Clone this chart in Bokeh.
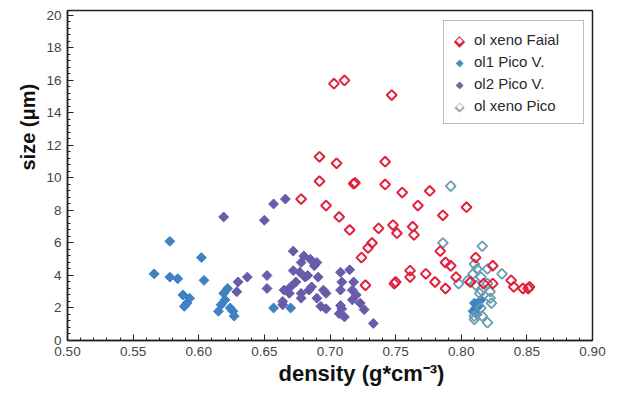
import math
from bokeh.plotting import figure
from bokeh.models import (SingleIntervalTicker, NumeralTickFormatter, Range1d, Legend,
                          LegendItem, Title, Label)
from bokeh.embed import file_html
from bokeh.resources import INLINE

# ol xeno Faial (open red diamonds)
faial_density = [0.703, 0.711, 0.747, 0.692, 0.705, 0.742, 0.692, 0.719, 0.718, 0.742,
                 0.755, 0.776, 0.678, 0.697, 0.767, 0.804, 0.786, 0.707, 0.715, 0.737,
                 0.748, 0.751, 0.763, 0.764, 0.732, 0.729, 0.724, 0.727, 0.750, 0.749,
                 0.761, 0.761, 0.773, 0.780, 0.788, 0.796, 0.784, 0.788, 0.792, 0.811,
                 0.824, 0.807, 0.817, 0.824, 0.838, 0.840, 0.847, 0.852, 0.851]
faial_size = [15.8, 16.0, 15.1, 11.3, 10.9, 11.0, 9.8, 9.7, 9.65, 9.6,
              9.1, 9.2, 8.7, 8.3, 8.3, 8.2, 7.7, 7.6, 6.8, 6.9,
              7.1, 6.6, 7.0, 6.5, 6.0, 5.7, 5.1, 3.4, 3.6, 3.5,
              3.9, 4.3, 4.1, 3.6, 3.2, 3.9, 5.5, 4.8, 4.6, 5.1,
              4.6, 3.6, 3.5, 3.5, 3.7, 3.3, 3.2, 3.3, 3.2]

# ol1 Pico V. (filled blue diamonds)
ol1_density = [0.566, 0.578, 0.602, 0.578, 0.584, 0.604, 0.588, 0.593, 0.591, 0.589,
               0.615, 0.619, 0.620, 0.617, 0.624, 0.626, 0.627, 0.622, 0.657, 0.670,
               0.810, 0.811, 0.809, 0.813, 0.812, 0.815]
ol1_size = [4.1, 6.1, 5.1, 3.9, 3.8, 3.7, 2.8, 2.6, 2.3, 2.1,
            1.8, 2.9, 2.5, 2.2, 2.0, 1.8, 1.5, 3.2, 2.0, 2.0,
            2.3, 2.0, 1.8, 2.1, 1.6, 2.5]

# ol2 Pico V. (filled purple diamonds)
ol2_density = [0.619, 0.650, 0.657, 0.666, 0.637, 0.630, 0.629, 0.652, 0.652, 0.664,
               0.672, 0.680, 0.685, 0.690, 0.678, 0.688, 0.672, 0.677, 0.683, 0.691,
               0.681, 0.670, 0.674, 0.686, 0.665, 0.669, 0.678, 0.664, 0.678, 0.684,
               0.690, 0.693, 0.697, 0.697, 0.695, 0.708, 0.715, 0.709, 0.718, 0.708,
               0.717, 0.720, 0.717, 0.723, 0.708, 0.707, 0.711, 0.709, 0.726, 0.733]
ol2_size = [7.6, 7.4, 8.4, 8.7, 3.9, 3.6, 3.0, 4.0, 3.2, 2.2,
            5.5, 5.2, 5.0, 4.8, 4.8, 4.6, 4.3, 4.2, 4.0, 3.9,
            3.9, 3.3, 3.6, 3.3, 3.1, 2.9, 2.6, 2.4, 2.9, 3.1,
            2.6, 2.1, 1.95, 2.9, 3.1, 4.2, 4.35, 3.6, 3.6, 3.1,
            3.1, 2.8, 2.5, 2.3, 2.15, 1.65, 1.45, 1.95, 1.9, 1.05]

# ol xeno Pico (open blue-grey diamonds)
xpico_density = [0.792, 0.786, 0.816, 0.810, 0.812, 0.820, 0.831, 0.809, 0.815, 0.798,
                 0.811, 0.820, 0.815, 0.822, 0.814, 0.823, 0.815, 0.810, 0.816, 0.820,
                 0.810, 0.822, 0.805]
xpico_size = [9.5, 6.0, 5.8, 4.7, 4.4, 4.4, 4.1, 4.1, 3.9, 3.5,
              3.4, 3.5, 3.1, 3.0, 2.9, 2.3, 2.0, 1.5, 1.5, 1.1,
              1.3, 2.6, 3.7]

series_labels = ["ol xeno Faial", "ol1 Pico V.", "ol2 Pico V.", "ol xeno Pico"]
x_ticks_interval = 0.05
y_ticks_interval = 2

FONT = "Liberation Sans"
SYM = "DejaVu Sans"
RED = "#e3203c"
BLUE = "#3f82c4"
PURPLE = "#6b5aab"
TEAL = "#6a9cb2"

p = figure(width=619, height=394, output_backend="svg", toolbar_location=None,
           x_range=Range1d(0.5, 0.9), y_range=Range1d(0, 20.3),
           min_border_left=67, min_border_right=27, min_border_top=10, min_border_bottom=54)

ang = math.pi / 4
r_ol2 = p.scatter(ol2_density, ol2_size, marker="square", size=7, angle=ang,
                  fill_color=PURPLE, line_color=PURPLE, line_width=1)
r_ol1 = p.scatter(ol1_density, ol1_size, marker="square", size=7, angle=ang,
                  fill_color=BLUE, line_color=BLUE, line_width=1)
r_xp = p.scatter(xpico_density, xpico_size, marker="square", size=7, angle=ang,
                 fill_color=None, line_color=TEAL, line_width=1.8)
r_fa = p.scatter(faial_density, faial_size, marker="square", size=7, angle=ang,
                 fill_color=None, line_color=RED, line_width=2)

# invisible stand-ins so the legend reserves the glyph column; diamonds drawn as text
dummies = [p.scatter(x=[], y=[], marker="square", size=1, fill_alpha=0, line_alpha=0)
           for _ in range(4)]

legend = Legend(items=[LegendItem(label=lab, renderers=[d])
                       for lab, d in zip(series_labels, dummies)],
                location=(376, 216))
legend.label_text_font = FONT
legend.label_text_font_size = "15px"
legend.label_text_color = "#2a2a2a"
legend.border_line_color = "#777777"
legend.border_line_width = 1
legend.background_fill_alpha = 0
legend.padding = 7
legend.spacing = 0
legend.label_height = 22
legend.glyph_height = 22
legend.glyph_width = 20
legend.label_standoff = 3
legend.label_width = 102
legend.margin = 0
p.add_layout(legend, "center")

# legend markers (diamond characters), positioned in screen units relative to the frame
row_y = [300, 278, 256, 234]
mx = 392


def sym(y, ch, color, size):
    p.add_layout(Label(x=mx, y=y, x_units="screen", y_units="screen", text=ch,
                       text_color=color, text_font=SYM, text_font_size=size,
                       text_align="center", text_baseline="middle", level="overlay"))


sym(row_y[0], "\u25c6", RED, "15px")
sym(row_y[0], "\u25c6", "white", "8px")
sym(row_y[1], "\u25c6", "#4a8fae", "10px")
sym(row_y[2], "\u25c6", "#76689a", "10px")
sym(row_y[3], "\u25c6", "#98a6ae", "13px")
sym(row_y[3], "\u25c6", "white", "8px")

p.grid.visible = False
p.outline_line_color = "#222222"
p.outline_line_width = 1.5

p.xaxis.ticker = SingleIntervalTicker(interval=x_ticks_interval, num_minor_ticks=5)
p.yaxis.ticker = SingleIntervalTicker(interval=y_ticks_interval, num_minor_ticks=5)
p.xaxis.formatter = NumeralTickFormatter(format="0.00")

for ax in (p.xaxis[0], p.yaxis[0]):
    ax.axis_line_color = "#222222"
    ax.axis_line_width = 1.5
    ax.major_tick_in = 6
    ax.major_tick_out = 0
    ax.minor_tick_in = 3
    ax.minor_tick_out = 0
    ax.major_tick_line_color = "#222222"
    ax.minor_tick_line_color = "#222222"
    ax.major_label_text_font = FONT
    ax.major_label_text_font_size = "13.5px"
    ax.major_label_text_color = "#444444"

p.xaxis.major_label_standoff = 6
p.yaxis.major_label_standoff = 6

# axis titles (offset like the reference, not centred on the frame)
xt = Title(text="density (g*cm\u207b\u00b3)", align="left", offset=211,
           text_font=FONT, text_font_style="bold", text_font_size="22px",
           text_color="#111111", standoff=0)
yt = Title(text="size (\u03bcm)", align="left", offset=170,
           text_font=FONT, text_font_style="bold", text_font_size="20px",
           text_color="#111111", standoff=10)
p.add_layout(xt, "below")
p.add_layout(yt, "left")

open("out.html", "w").write(file_html(p, INLINE))
